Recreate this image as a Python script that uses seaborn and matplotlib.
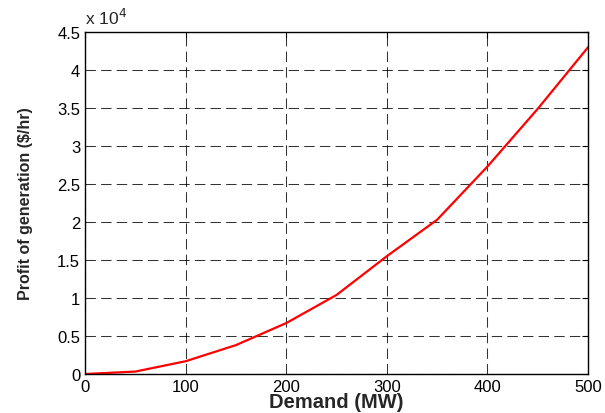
import matplotlib
matplotlib.use("Agg")
import matplotlib.pyplot as plt
import matplotlib.ticker as mticker
import pandas as pd
import seaborn as sns

# demand vs profit of generation
demand = [0, 50, 100, 150, 200, 250, 300, 350, 400, 450, 500]
profit = [0, 320, 1680, 3800, 6700, 10400, 15500, 20300, 27300, 34900, 43000]

df = pd.DataFrame({"Demand": demand, "Profit": profit})

sns.set_style("white")
plt.rcParams["font.family"] = ["Liberation Sans", "DejaVu Sans"]

fig = plt.figure(figsize=(6.05, 4.14), dpi=100)
ax = fig.add_axes([0.1405, 0.0942, 0.8315, 0.826])

sns.lineplot(x="Demand", y="Profit", data=df, color="red", linewidth=1.6, ax=ax)

ax.set_xlim(0, 500)
ax.set_ylim(0, 45000)
ax.set_xticks(range(0, 501, 100))
ax.set_yticks(range(0, 45001, 5000))
ax.yaxis.set_major_formatter(mticker.FuncFormatter(lambda v, p: "%g" % (v / 1e4)))
ax.tick_params(direction="in", length=4, labelsize=12, colors="black", top=True, right=True)

ax.grid(True, color="black", linestyle=(0, (10, 5)), linewidth=0.75, alpha=0.8)
for s in ax.spines.values():
    s.set_color("black")
    s.set_linewidth(1.0)

ax.set_xlabel("Demand (MW)", fontsize=14.5, fontweight="bold", labelpad=-1)
ax.set_ylabel("Profit of generation ($/hr)", fontsize=11.5, fontweight="bold", labelpad=17)
ax.text(0.0, 1.015, "x 10$^4$", transform=ax.transAxes, fontsize=12.5, ha="left", va="bottom")

fig.savefig("out.png", dpi=100)
